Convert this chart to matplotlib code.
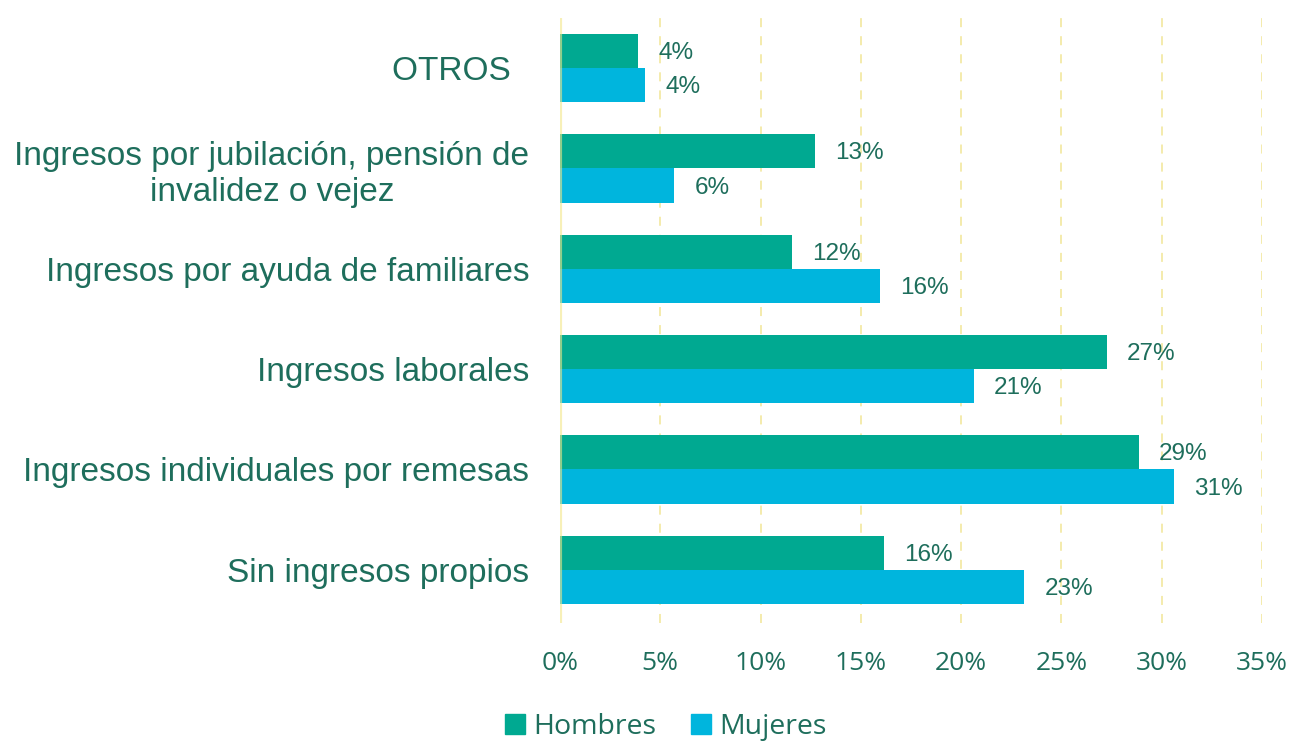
import matplotlib
matplotlib.use("Agg")
import matplotlib.pyplot as plt
from matplotlib.patches import Patch
import numpy as np

categories = [
    "OTROS  ",
    "Ingresos por jubilación, pensión de\ninvalidez o vejez",
    "Ingresos por ayuda de familiares",
    "Ingresos laborales",
    "Ingresos individuales por remesas",
    "Sin ingresos propios",
]
hombres = [3.9, 12.7, 11.55, 27.25, 28.85, 16.15]
mujeres = [4.25, 5.7, 15.95, 20.65, 30.6, 23.15]
series_names = ["Hombres", "Mujeres"]
xticks = [0, 5, 10, 15, 20, 25, 30, 35]

c_h = "#00A991"
c_m = "#00B5DD"
txt = "#1E6E5C"
grid_c = "#F3E9A6"

W, H = 1294, 744
fig = plt.figure(figsize=(W / 100, H / 100), dpi=100)
ax = fig.add_axes([560 / W, 1 - 623 / H, (1262 - 560) / W, (623 - 18) / H])

y = np.arange(len(categories))
bh = 0.34
ax.barh(y - bh / 2, hombres, height=bh, color=c_h, zorder=2)
ax.barh(y + bh / 2, mujeres, height=bh, color=c_m, zorder=2)

for yi, v in zip(y, hombres):
    ax.text(v + 1.0, yi - bh / 2 + 0.02, f"{round(v)}%", va="center", ha="left",
            fontsize=17.5, color=txt, family="Liberation Sans")
for yi, v in zip(y, mujeres):
    ax.text(v + 1.0, yi + bh / 2 + 0.02, f"{round(v)}%", va="center", ha="left",
            fontsize=17.5, color=txt, family="Liberation Sans")

ax.set_xlim(0, 35)
ax.set_ylim(5.53, -0.5)
ax.set_xticks(xticks)
ax.set_xticklabels([f"{t}%" for t in xticks], family="Open Sans", fontsize=19, color=txt)
ax.set_yticks(y)
ax.set_yticklabels(categories, family="Liberation Sans", fontsize=24, color=txt,
                   ha="right", multialignment="center", linespacing=1.22)
ax.tick_params(axis="y", length=0, pad=22)
ax.tick_params(axis="x", length=0, pad=20)
for t in xticks[1:]:
    ax.axvline(t, color=grid_c, linestyle=(0, (5, 5)), linewidth=1.3, zorder=1)
ax.axvline(0, color="#F2E78A", linewidth=3, zorder=3, alpha=0.6)
for s in ax.spines.values():
    s.set_visible(False)

handles = [Patch(color=c_h), Patch(color=c_m)]
leg = fig.legend(handles, series_names, loc="center", bbox_to_anchor=(666 / W, 1 - 727 / H),
                 ncol=2, frameon=False, handlelength=0.7, handleheight=0.7,
                 handletextpad=0.3, columnspacing=1.2,
                 prop={"family": "Open Sans", "size": 20.5})
for t in leg.get_texts():
    t.set_color(txt)

fig.savefig("out.png", dpi=100)
